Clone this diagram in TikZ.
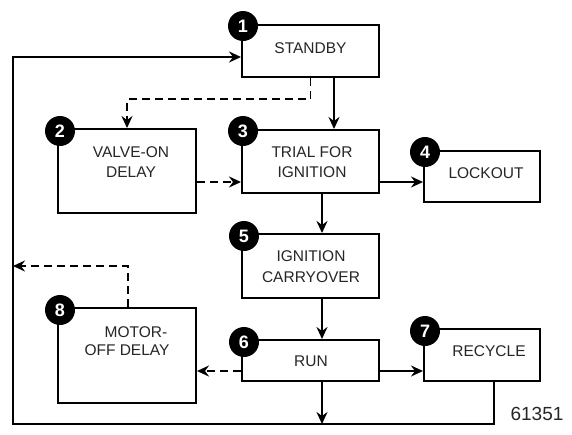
\documentclass[tikz,border=0pt]{standalone}
\usepackage{fontspec}
\setmainfont{Liberation Sans}
\usetikzlibrary{arrows.meta}
\begin{document}
\begin{tikzpicture}[x=1pt,y=-1pt,
  box/.style={draw=black,fill=white,line width=2pt,rectangle,inner sep=0pt},
  txt/.style={text=black!85,font=\fontsize{15.5}{20}\selectfont,align=center,inner sep=0pt},
  num/.style={circle,fill=black,minimum size=30pt,inner sep=0pt,text=white,font=\bfseries\fontsize{18}{18}\selectfont},
  arr/.style={line width=1.8pt,-{Stealth[length=12pt,width=11pt,inset=4pt]}},
  arrd/.style={arr,dash pattern=on 8pt off 5pt},
  conn/.style={line width=1.8pt}]
\useasboundingbox (0,0) rectangle (572,434);
% boxes
\node[box,minimum width=137pt,minimum height=52pt] (b1) at (310.5,51) {};
\node[box,minimum width=138pt,minimum height=84pt] (b2) at (127,171) {};
\node[box,minimum width=137pt,minimum height=63pt] (b3) at (310.5,161.5) {};
\node[box,minimum width=116pt,minimum height=51pt] (b4) at (482,176.5) {};
\node[box,minimum width=137pt,minimum height=64pt] (b5) at (310.5,266) {};
\node[box,minimum width=137pt,minimum height=41pt] (b6) at (310.5,360.5) {};
\node[box,minimum width=116pt,minimum height=52pt] (b7) at (482,355) {};
\node[box,minimum width=138pt,minimum height=95pt] (b8) at (127,355.5) {};
% texts
\node[txt] (t1) at (310.5,48) {STANDBY};
\node[txt] (t2) at (131,162) {VALVE-ON\\DELAY};
\node[txt] (t3) at (312,162) {TRIAL FOR\\IGNITION};
\node[txt] (t4) at (486,173) {LOCKOUT};
\node[txt,font=\fontsize{15.5}{21}\selectfont] (t5) at (311,266.5) {IGNITION\\CARRYOVER};
\node[txt] (t6) at (311,361) {RUN};
\node[txt] (t7) at (489,351) {RECYCLE};
\node[txt,font=\fontsize{15.5}{18}\selectfont] (t8) at (127,341) {\hspace*{18pt}MOTOR-\\OFF DELAY};
\node[txt,font=\fontsize{19}{19}\selectfont] (t9) at (537,414) {61351};
% number badges
\node[num] (n1) at (243,26) {1};
\node[num] (n2) at (60,131) {2};
\node[num] (n3) at (243,131) {3};
\node[num] (n4) at (425,152) {4};
\node[num] (n5) at (244,236) {5};
\node[num] (n6) at (244,342) {6};
\node[num] (n7) at (425,331) {7};
\node[num] (n8) at (60,310) {8};
% helper coordinates
\coordinate (xa) at (334,0);
\coordinate (xc) at (322,0);
\coordinate (x494) at (494,0);
\coordinate (x128) at (128,0);
\coordinate (y182) at (0,182);
\coordinate (y371) at (0,371);
\coordinate (y57) at (0,57);
\coordinate (bot) at (322,424);
\coordinate (bl) at (13,424);
\coordinate (ml) at (13,266);
% connectors
\draw[arr] (b1.south -| xa) -- (b3.north -| xa);
\draw[arrd] (b1.south) -- ++(0,21) -| (b2.north);
\draw[arrd] (b2.east |- y182) -- (b3.west |- y182);
\draw[arr] (b3.east |- y182) -- (b4.west |- y182);
\draw[arr] (b3.south -| xc) -- (b5.north -| xc);
\draw[arr] (b5.south -| xc) -- (b6.north -| xc);
\draw[arr] (b6.south -| xc) -- (bot);
\draw[arrd] (b6.west |- y371) -- (b8.east |- y371);
\draw[arr] (b6.east |- y371) -- (b7.west |- y371);
\draw[arr] (b7.south -| x494) |- (bl) |- (b1.west |- y57);
\draw[arrd] (b8.north -| x128) |- (ml);
\end{tikzpicture}
\end{document}
